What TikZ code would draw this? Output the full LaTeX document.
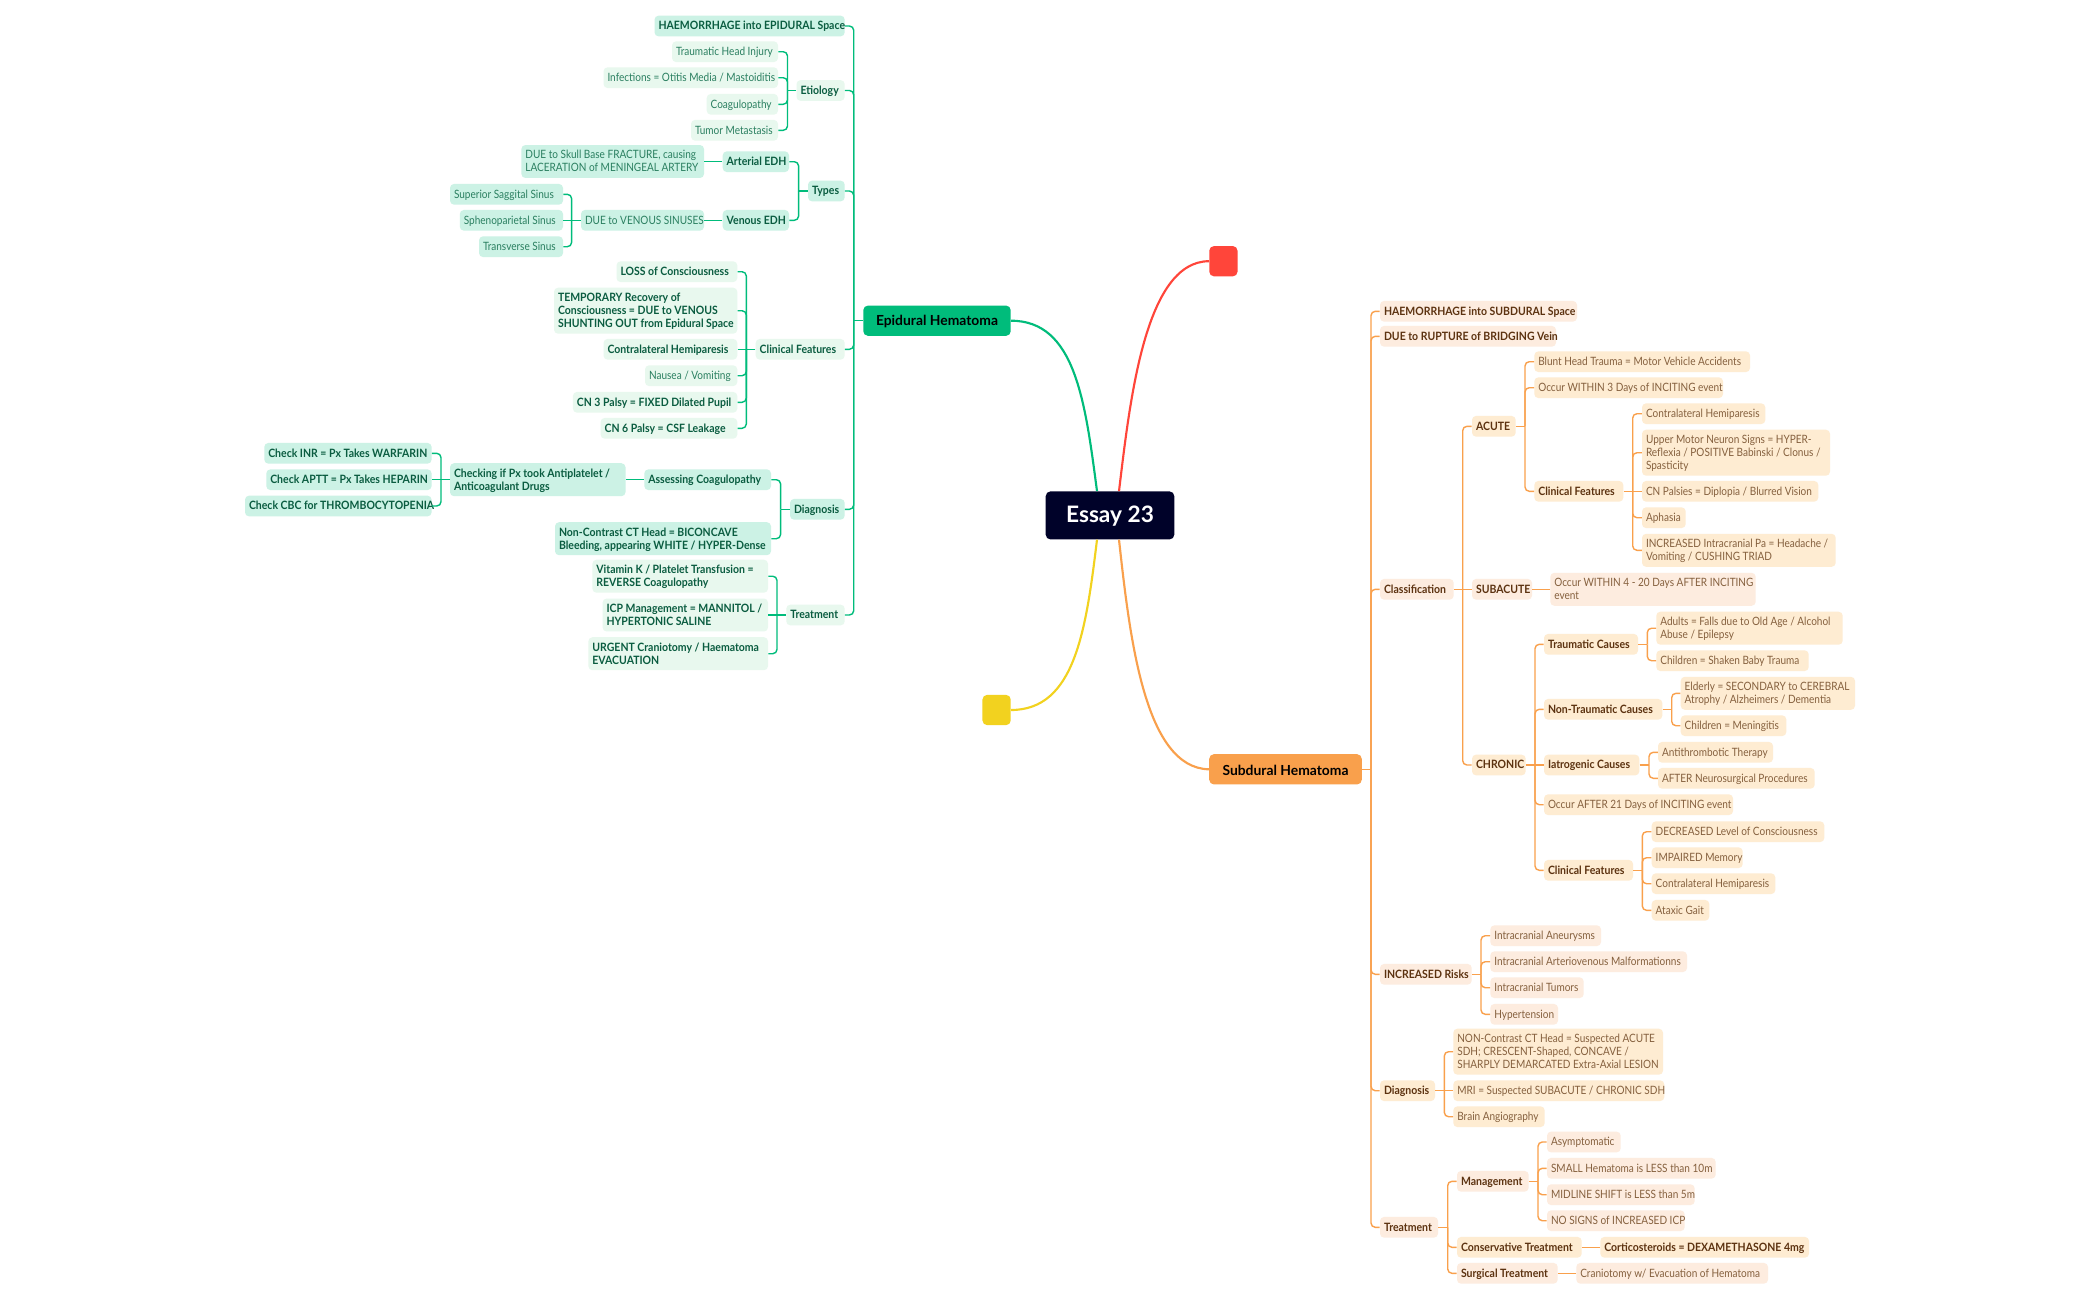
\documentclass[tikz,border=0pt]{standalone}
\usepackage{fontspec}
\setmainfont{Lato}[FakeStretch=0.875,BoldFeatures={FakeStretch=0.915}]
\newfontfamily\rootf{Lato}
\definecolor{gmain}{HTML}{00BC7B}
\definecolor{gfa}{HTML}{CCF2E5}
\definecolor{gfb}{HTML}{E8F8EE}
\definecolor{gtb}{HTML}{0A5C40}
\definecolor{gtr}{HTML}{2A7F60}
\definecolor{omain}{HTML}{F9A04C}
\definecolor{ofa}{HTML}{FDECDF}
\definecolor{ofb}{HTML}{FEECD2}
\definecolor{otb}{HTML}{5C3210}
\definecolor{otr}{HTML}{85603E}
\definecolor{essayc}{HTML}{000229}
\definecolor{redc}{HTML}{FF453A}
\definecolor{yelc}{HTML}{F2D21F}
\newcommand\smallf{\fontsize{8.6}{9.75}\selectfont}
\newcommand\lowered[1]{\raisebox{-0.9pt}[\height][\depth]{#1}}
\newsavebox\ndbox
\tikzset{
  box/.style={rounded corners=3pt,inner xsep=3pt,inner ysep=2.6pt,minimum height=15.5pt},
  gAb/.style={box,fill=gfa,text=gtb,font=\smallf\bfseries},
  gAr/.style={box,fill=gfa,text=gtr,font=\smallf},
  gBb/.style={box,fill=gfb,text=gtb,font=\smallf\bfseries},
  gBr/.style={box,fill=gfb,text=gtr,font=\smallf},
  oAb/.style={box,fill=ofa,text=otb,font=\smallf\bfseries},
  oAr/.style={box,fill=ofa,text=otr,font=\smallf},
  oBb/.style={box,fill=ofb,text=otb,font=\smallf\bfseries},
  oBr/.style={box,fill=ofb,text=otr,font=\smallf},
  gl/.style={draw=gmain,line width=1.05pt},
  ol/.style={draw=omain,line width=1.05pt},
  main/.style={line width=1.6pt},
  rootbox/.style={rounded corners=3.5pt,inner sep=0pt}
}
% name, left, right, y, style, lines
\newcommand\nd[6]{%
  \pgfmathsetmacro\nw{(#3-#2)*0.75-6}%
  \node[#5,minimum width={(#3-#2)*0.75pt}] (#1) at ({(#2+#3)/2},#4)
    {\sbox\ndbox{\begin{tabular}{@{}l@{}}#6\end{tabular}}\makebox[\nw pt][l]{\raisebox{-0.9pt}[\ht\ndbox][\dp\ndbox]{\usebox\ndbox}}};}
% draw a child link: straight when level with the parent
\newcommand\linkk[5]{% child, child anchor, parent, parent anchor, style
  \pgfextracty{\dimen0}{\pgfpointanchor{#1}{#2}}%
  \pgfextracty{\dimen2}{\pgfpointanchor{#3}{#4}}%
  \advance\dimen0 by -\dimen2
  \ifdim\ifdim\dimen0<0pt -\fi\dimen0<1.5pt
    \path[#5] (#1.#2) -- (b#3 |- #1.#2);
  \else
    \path[#5,rounded corners=3.2pt] (#1.#2) -- (b#3 |- #1.#2) -- (b#3 |- #3.#4);
  \fi}
% parent, bracket x, children, line style
\newcommand\kidsL[4]{%
  \coordinate (b#1) at (#2,0);
  \path[#4] (#1.west) -- (b#1 |- #1.west);
  \foreach \k in {#3}{\linkk{\k}{east}{#1}{west}{#4}}}
\newcommand\kidsR[4]{%
  \coordinate (b#1) at (#2,0);
  \path[#4] (#1.east) -- (b#1 |- #1.east);
  \foreach \k in {#3}{\linkk{\k}{west}{#1}{east}{#4}}}
\begin{document}
\begin{tikzpicture}[x=0.75pt,y=-0.75pt]
\useasboundingbox[fill=white] (0,0) rectangle (2100,1300);
% roots
\node[rootbox,fill=essayc,text=white,font=\rootf\fontsize{17}{20}\selectfont\bfseries,minimum width=96.4pt,minimum height=36pt] (essay) at (1110,515.4) {\lowered{Essay 23}};
\node[rootbox,fill=gmain,text=black,font=\rootf\fontsize{10.4}{12}\selectfont\bfseries,minimum width=110.6pt,minimum height=22.7pt] (epi) at (937,320.7) {\lowered{Epidural Hematoma}};
\node[rootbox,fill=omain,text=black,font=\rootf\fontsize{10.4}{12}\selectfont\bfseries,minimum width=114.4pt,minimum height=22.7pt] (sub) at (1285.5,769.3) {\lowered{Subdural Hematoma}};
\node[rootbox,fill=redc,minimum width=21.2pt,minimum height=22.7pt] (red) at (1223.4,261.2) {};
\node[rootbox,fill=yelc,minimum width=21.2pt,minimum height=22.7pt] (yel) at (996.6,710) {};
\path[main,draw=gmain] (epi.east) .. controls (1075,320.7) and (1085,400) .. ([xshift=-9.75pt]essay.north);
\path[main,draw=redc] (red.west) .. controls (1145,261.2) and (1130,400) .. ([xshift=6.75pt]essay.north);
\path[main,draw=yelc] (yel.east) .. controls (1075,710) and (1086,630) .. ([xshift=-9.75pt]essay.south);
\path[main,draw=omain] (sub.west) .. controls (1145,768) and (1130,640) .. ([xshift=6.75pt]essay.south);
% epidural
\nd{ehaem}{654.5}{844.7}{26}{gAb}{HAEMORRHAGE into EPIDURAL Space}
\nd{etio}{796.5}{844.7}{90.5}{gBb}{Etiology}
\nd{etra}{672}{778}{51.7}{gBr}{Traumatic Head Injury}
\nd{einf}{603.5}{778}{77.7}{gBr}{Infections = Otitis Media / Mastoiditis}
\nd{ecoa}{706.7}{778}{104.3}{gBr}{Coagulopathy}
\nd{etum}{691}{778}{130.3}{gBr}{Tumor Metastasis}
\nd{etypes}{808}{844.7}{191}{gAb}{Types}
\nd{eart}{722.7}{789}{161.7}{gAb}{Arterial EDH}
\nd{even}{722.7}{789}{220.3}{gAb}{Venous EDH}
\nd{esku}{521.4}{704}{161.5}{gAr}{DUE to Skull Base FRACTURE, causing\\LACERATION of MENINGEAL ARTERY}
\nd{evsi}{581}{704}{220.3}{gAr}{DUE to VENOUS SINUSES}
\nd{esup}{450}{563}{194.3}{gAr}{Superior Saggital Sinus}
\nd{esph}{459.8}{563}{220.3}{gAr}{Sphenoparietal Sinus}
\nd{etrs}{479}{563}{246.7}{gAr}{Transverse Sinus}
\nd{eclin}{755.7}{844.7}{349.3}{gBb}{Clinical Features}
\nd{eloss}{616.5}{737.3}{271.7}{gBb}{LOSS of Consciousness}
\nd{etemp}{554}{737.3}{310.7}{gBb}{TEMPORARY Recovery of\\Consciousness = DUE to VENOUS\\SHUNTING OUT from Epidural Space}
\nd{econ}{603.5}{737.3}{349.3}{gBb}{Contralateral Hemiparesis}
\nd{enau}{645}{737.3}{375.7}{gBr}{Nausea / Vomiting}
\nd{ecn3}{572.9}{737.3}{402.3}{gBb}{CN 3 Palsy = FIXED Dilated Pupil}
\nd{ecn6}{600.6}{737.3}{428.3}{gBb}{CN 6 Palsy = CSF Leakage}
\nd{ediag}{790}{844.7}{509.3}{gAb}{Diagnosis}
\nd{eass}{644.3}{771}{479.7}{gAb}{Assessing Coagulopathy}
\nd{echk}{450}{625.5}{479.7}{gAb}{Checking if Px took Antiplatelet /\\Anticoagulant Drugs}
\nd{einr}{264.3}{431.6}{453.3}{gAb}{Check INR = Px Takes WARFARIN}
\nd{eapt}{266.3}{431.6}{479.7}{gAb}{Check APTT = Px Takes HEPARIN}
\nd{ecbc}{245}{431.6}{506}{gAb}{Check CBC for THROMBOCYTOPENIA}
\nd{enct}{555}{771}{538.7}{gAb}{Non-Contrast CT Head = BICONCAVE\\Bleeding, appearing WHITE / HYPER-Dense}
\nd{etre}{786.3}{844.7}{615}{gBb}{Treatment}
\nd{evit}{592.4}{768}{576.2}{gBb}{Vitamin K / Platelet Transfusion =\\REVERSE Coagulopathy}
\nd{eicp}{602.6}{768}{615}{gBb}{ICP Management = MANNITOL /\\HYPERTONIC SALINE}
\nd{eurg}{588.4}{768}{653.7}{gBb}{URGENT Craniotomy / Haematoma\\EVACUATION}
\kidsL{epi}{853.7}{ehaem,etio,etypes,eclin,ediag,etre}{gl}
\kidsL{etio}{787.5}{etra,einf,ecoa,etum}{gl}
\kidsL{etypes}{798.6}{eart,even}{gl}
\kidsL{even}{713}{evsi}{gl}
\kidsL{eart}{713}{esku}{gl}
\kidsL{evsi}{571.6}{esup,esph,etrs}{gl}
\kidsL{eclin}{746.3}{eloss,etemp,econ,enau,ecn3,ecn6}{gl}
\kidsL{ediag}{780.6}{eass,enct}{gl}
\kidsL{eass}{635}{echk}{gl}
\kidsL{echk}{441}{einr,eapt,ecbc}{gl}
\kidsL{etre}{777}{evit,eicp,eurg}{gl}
% subdural
\nd{shaem}{1380}{1577}{311.3}{oAb}{HAEMORRHAGE into SUBDURAL Space}
\nd{srup}{1380}{1556}{336.3}{oAb}{DUE to RUPTURE of BRIDGING Vein}
\nd{scla}{1380}{1453.7}{589.3}{oAb}{Classification}
\nd{sacu}{1472}{1515.7}{426.3}{oBb}{ACUTE}
\nd{sblu}{1534.3}{1750}{361.7}{oBr}{Blunt Head Trauma = Motor Vehicle Accidents}
\nd{socc}{1534.3}{1723}{387.7}{oBr}{Occur WITHIN 3 Days of INCITING event}
\nd{scf}{1534.3}{1623.3}{491.3}{oBb}{Clinical Features}
\nd{scon}{1642}{1765.3}{413.7}{oBr}{Contralateral Hemiparesis}
\nd{sump}{1642}{1830}{452.7}{oBr}{Upper Motor Neuron Signs = HYPER-\\Reflexia / POSITIVE Babinski / Clonus /\\Spasticity}
\nd{scnp}{1642}{1818.3}{491.3}{oBr}{CN Palsies = Diplopia / Blurred Vision}
\nd{spha}{1642}{1685.7}{517.7}{oBr}{Aphasia}
\nd{sinc}{1642}{1835.7}{550.3}{oBr}{INCREASED Intracranial Pa = Headache /\\Vomiting / CUSHING TRIAD}
\nd{ssub}{1472}{1532}{589.3}{oAb}{SUBACUTE}
\nd{swit}{1550.3}{1755.7}{589.3}{oAr}{Occur WITHIN 4 - 20 Days AFTER INCITING\\event}
\nd{schr}{1472}{1525.7}{765}{oBb}{CHRONIC}
\nd{stra}{1544}{1638}{644.3}{oBb}{Traumatic Causes}
\nd{sadu}{1656.3}{1842.7}{628.2}{oBr}{Adults = Falls due to Old Age / Alcohol\\Abuse / Epilepsy}
\nd{ssha}{1656.3}{1808.7}{660.7}{oBr}{Children = Shaken Baby Trauma}
\nd{snon}{1544}{1662.3}{709.3}{oBb}{Non-Traumatic Causes}
\nd{seld}{1680.7}{1855}{693.3}{oBr}{Elderly = SECONDARY to CEREBRAL\\Atrophy / Alzheimers / Dementia}
\nd{smen}{1680.7}{1786.3}{725.7}{oBr}{Children = Meningitis}
\nd{siat}{1544}{1639.3}{765}{oBb}{Iatrogenic Causes}
\nd{sant}{1658}{1773}{752.3}{oBr}{Antithrombotic Therapy}
\nd{saft}{1658}{1814.7}{778.3}{oBr}{AFTER Neurosurgical Procedures}
\nd{soca}{1544}{1733}{804.7}{oBr}{Occur AFTER 21 Days of INCITING event}
\nd{scfb}{1544}{1633}{870.3}{oBb}{Clinical Features}
\nd{sdec}{1651.7}{1824.3}{831.7}{oBr}{DECREASED Level of Consciousness}
\nd{simp}{1651.7}{1742.7}{857.7}{oBr}{IMPAIRED Memory}
\nd{scoc}{1651.7}{1775.3}{883.7}{oBr}{Contralateral Hemiparesis}
\nd{sata}{1651.7}{1709.3}{910.3}{oBr}{Ataxic Gait}
\nd{srisk}{1380}{1471.7}{974.3}{oAb}{INCREASED Risks}
\nd{sane}{1490.3}{1601}{935.7}{oAr}{Intracranial Aneurysms}
\nd{savm}{1490.3}{1687}{961.7}{oAr}{Intracranial Arteriovenous Malformationns}
\nd{stum}{1490.3}{1583.7}{987.7}{oAr}{Intracranial Tumors}
\nd{shyp}{1490.3}{1558}{1014.3}{oAr}{Hypertension}
\nd{sdia}{1380}{1435}{1090.7}{oBb}{Diagnosis}
\nd{snct}{1453.3}{1663}{1051.7}{oBr}{NON-Contrast CT Head = Suspected ACUTE\\SDH; CRESCENT-Shaped, CONCAVE /\\SHARPLY DEMARCATED Extra-Axial LESION}
\nd{smri}{1453.3}{1664.3}{1090.7}{oBr}{MRI = Suspected SUBACUTE / CHRONIC SDH}
\nd{sbra}{1453.3}{1544.7}{1116.7}{oBr}{Brain Angiography}
\nd{stre}{1380}{1438}{1227.3}{oAb}{Treatment}
\nd{sman}{1457}{1528.7}{1181.3}{oAb}{Management}
\nd{sasy}{1547}{1620.7}{1142}{oAr}{Asymptomatic}
\nd{ssma}{1547}{1715.7}{1168.3}{oAr}{SMALL Hematoma is LESS than 10m}
\nd{smid}{1547}{1694.7}{1194.7}{oAr}{MIDLINE SHIFT is LESS than 5m}
\nd{snos}{1547}{1684.7}{1220.7}{oAr}{NO SIGNS of INCREASED ICP}
\nd{scns}{1457}{1581.7}{1247.3}{oBb}{Conservative Treatment}
\nd{scor}{1600.3}{1809}{1247.3}{oBb}{Corticosteroids = DEXAMETHASONE 4mg}
\nd{ssur}{1457}{1557.7}{1273.3}{oAb}{Surgical Treatment}
\nd{scra}{1576.3}{1768}{1273.3}{oAr}{Craniotomy w/ Evacuation of Hematoma}
\kidsR{sub}{1371}{shaem,srup,scla,srisk,sdia,stre}{ol}
\kidsR{scla}{1462.7}{sacu,ssub,schr}{ol}
\kidsR{sacu}{1525}{sblu,socc,scf}{ol}
\kidsR{scf}{1632.7}{scon,sump,scnp,spha,sinc}{ol}
\kidsR{ssub}{1541}{swit}{ol}
\kidsR{schr}{1535}{stra,snon,siat,soca,scfb}{ol}
\kidsR{stra}{1647.3}{sadu,ssha}{ol}
\kidsR{snon}{1671.7}{seld,smen}{ol}
\kidsR{siat}{1649}{sant,saft}{ol}
\kidsR{scfb}{1642.3}{sdec,simp,scoc,sata}{ol}
\kidsR{srisk}{1481}{sane,savm,stum,shyp}{ol}
\kidsR{sdia}{1444.3}{snct,smri,sbra}{ol}
\kidsR{stre}{1447.7}{sman,scns,ssur}{ol}
\kidsR{sman}{1538}{sasy,ssma,smid,snos}{ol}
\kidsR{scns}{1591}{scor}{ol}
\kidsR{ssur}{1567}{scra}{ol}
\end{tikzpicture}
\end{document}
